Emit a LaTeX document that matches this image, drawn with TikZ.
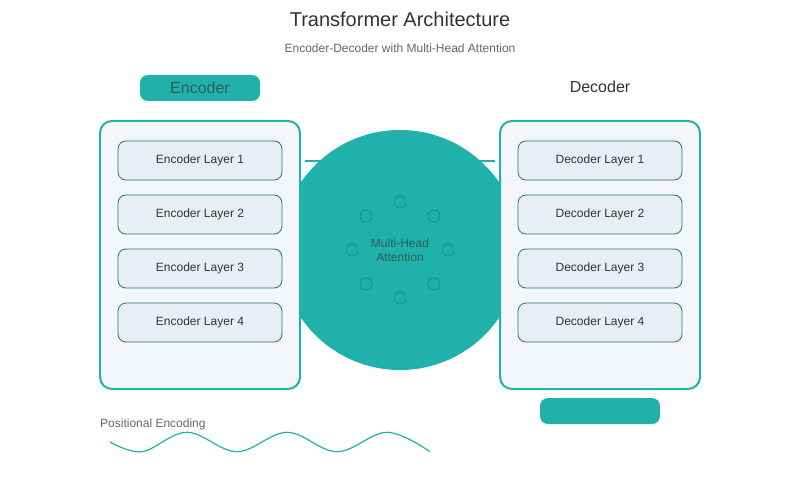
\documentclass[tikz,border=0pt]{standalone}
\usepackage{fontspec}
\setmainfont{Liberation Sans}
\usetikzlibrary{calc}
\definecolor{teal1}{HTML}{20B2AA}
\definecolor{tealdark}{HTML}{1A8F88}
\definecolor{layerline}{HTML}{2A7570}
\definecolor{boxfill}{HTML}{F2F6F9}
\definecolor{layerfill}{HTML}{E8EEF4}
\definecolor{txt}{HTML}{333333}
\definecolor{subtxt}{HTML}{666666}
\definecolor{pilltxt}{HTML}{2E5E5C}
\begin{document}
\begin{tikzpicture}[x=1pt,y=-1pt,
  bigbox/.style={draw=teal1, line width=2pt, fill=boxfill, rounded corners=12pt, minimum width=200pt, minimum height=268pt, inner sep=0pt},
  layerbox/.style={draw=layerline, line width=0.8pt, fill=layerfill, rounded corners=8pt, minimum width=164pt, minimum height=39pt, inner sep=0pt, font=\fontsize{12}{14}\selectfont, text=txt},
  pill/.style={fill=teal1, rounded corners=8pt, minimum width=120pt, minimum height=26pt, inner sep=0pt},
  headdot/.style={circle, draw=tealdark, line width=0.8pt, minimum size=12pt, inner sep=0pt},
  link/.style={draw=teal1, line width=2pt}
]
\useasboundingbox[fill=white] (0,0) rectangle (800,500);

% title
\node[font=\fontsize{20}{24}\selectfont, text=txt] (title) at (400,19) {Transformer Architecture};
\node[font=\fontsize{12}{14}\selectfont, text=subtxt] (subtitle) at (400,48) {Encoder-Decoder with Multi-Head Attention};

% labels
\node[pill, font=\fontsize{16}{19}\selectfont, text=pilltxt] (enclabel) at (200,88) {Encoder};
\node[font=\fontsize{16}{19}\selectfont, text=txt] (declabel) at (600,87) {Decoder};
\node[pill] (decpill) at (600,411) {};

% attention circle
\node[circle, fill=teal1, minimum size=240pt, inner sep=0pt] (mha) at (400,250) {};
\foreach \i/\a in {1/90,2/45,3/0,4/-45,5/-90,6/-135,7/180,8/135}{
  \node[headdot] (h\i) at ($(mha.center)+(\a:48)$) {};
}
\node[align=center, font=\fontsize{12}{14}\selectfont, text=pilltxt] (mhatext) at (mha.center) {Multi-Head\\Attention};

% boxes
\node[bigbox] (enc) at (200,255) {};
\node[bigbox] (dec) at (600,255) {};

\foreach \k/\y in {1/160.5,2/214.5,3/268.5,4/322.5}{
  \node[layerbox] (el\k) at (200,\y) {Encoder Layer \k};
  \node[layerbox] (dl\k) at (600,\y) {Decoder Layer \k};
}

% connector
\coordinate (ca) at ($(enc.east |- el1.east)+(4,0)$);
\coordinate (cb) at ($(dec.west |- dl1.west)+(-4,0)$);
\draw[link] (ca) -- (cb);

% positional encoding
\node[anchor=west, font=\fontsize{12}{14}\selectfont, text=subtxt, inner sep=0pt] (pelabel) at (100,424.5) {Positional Encoding};
\draw[teal1, line width=1.2pt] plot[smooth, tension=0.6] coordinates {(110,442) (142,451.7) (187,432.3) (237,451.7) (287,432.3) (337,451.7) (387,432.3) (430,451.7)};
\end{tikzpicture}
\end{document}
